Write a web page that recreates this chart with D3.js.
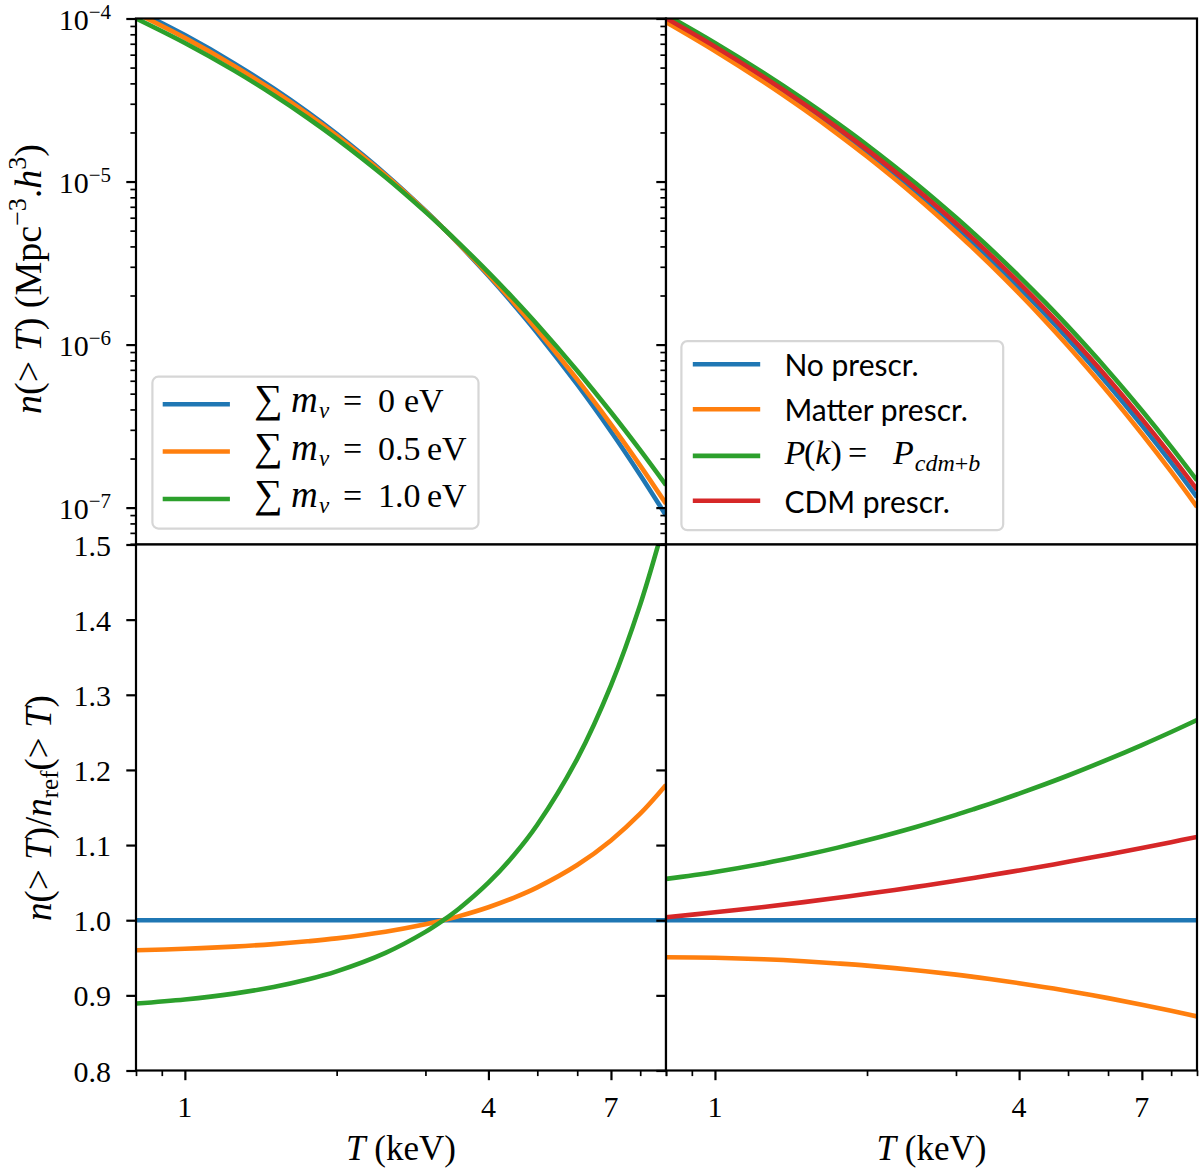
<!DOCTYPE html>
<html><head><meta charset="utf-8">
<script src="https://cdn.jsdelivr.net/npm/d3@7"></script>
<style>
body{margin:0;background:#fff}
svg text{font-family:"Liberation Serif","DejaVu Serif",serif;fill:#000}
.sans{font-family:Lato,"Open Sans",sans-serif}
</style>
</head><body>
<script>
// ---------------- data ----------------
const T = [0.8,1,1.25,1.5,1.75,2,2.5,3,3.25,3.5,4,4.5,5,6,7,8,9];

// top-left: n(>T), neutrino masses
const massLabels = ["0 eV","0.5 eV","1.0 eV"];
const nMass0  = [1.1246e-4,7.907e-5,5.327e-5,3.721e-5,2.673e-5,1.960e-5,1.110e-5,6.620e-6,5.194e-6,4.112e-6,2.641e-6,1.744e-6,1.178e-6,5.693e-7,2.931e-7,1.586e-7,8.95e-8];
const nMass05 = [1.0796e-4,7.607e-5,5.140e-5,3.603e-5,2.598e-5,1.913e-5,1.093e-5,6.584e-6,5.193e-6,4.134e-6,2.687e-6,1.796e-6,1.229e-6,6.111e-7,3.242e-7,1.811e-7,1.056e-7];
const nMass10 = [9.999e-5,7.073e-5,4.807e-5,3.391e-5,2.462e-5,1.827e-5,1.062e-5,6.517e-6,5.192e-6,4.177e-6,2.773e-6,1.896e-6,1.328e-6,6.916e-7,3.847e-7,2.252e-7,1.375e-7];

// bottom-left: ratios to the 0 eV case
const rMass0  = [1,1,1,1,1,1,1,1,1,1,1,1,1,1,1,1,1];
const rMass05 = [0.9600,0.9620,0.9649,0.9682,0.9719,0.9758,0.9846,0.9945,0.9999,1.0054,1.0173,1.0301,1.0437,1.0734,1.1062,1.1417,1.1800];
const rMass10 = [0.8891,0.8945,0.9023,0.9112,0.9211,0.9320,0.9566,0.9845,0.9997,1.0157,1.0500,1.0871,1.1270,1.2148,1.3126,1.4200,1.5365];

// top-right: n(>T), prescriptions
const prescrLabels = ["No prescr.","Matter prescr.","P(k) = P_cdm+b","CDM prescr."];
const nNoPrescr = [1.0e-4,6.653e-5,4.294e-5,2.926e-5,2.075e-5,1.515e-5,8.648e-6,5.272e-6,4.195e-6,3.376e-6,2.245e-6,1.540e-6,1.083e-6,5.697e-7,3.197e-7,1.887e-7,1.159e-7];
const nMatter   = [9.508e-5,6.322e-5,4.072e-5,2.767e-5,1.956e-5,1.424e-5,8.074e-6,4.890e-6,3.879e-6,3.112e-6,2.057e-6,1.403e-6,9.810e-7,5.106e-7,2.838e-7,1.660e-7,1.011e-7];
const nPcdmb    = [1.055e-4,7.081e-5,4.619e-5,3.179e-5,2.275e-5,1.676e-5,9.721e-6,6.011e-6,4.815e-6,3.899e-6,2.623e-6,1.819e-6,1.292e-6,6.916e-7,3.942e-7,2.360e-7,1.468e-7];
const nCDM      = [1.004e-4,6.723e-5,4.370e-5,2.997e-5,2.137e-5,1.568e-5,9.032e-6,5.549e-6,4.431e-6,3.578e-6,2.394e-6,1.651e-6,1.167e-6,6.196e-7,3.504e-7,2.083e-7,1.288e-7];

// bottom-right: ratios to "No prescr."
const rNoPrescr = [1,1,1,1,1,1,1,1,1,1,1,1,1,1,1,1,1];
const rMatter   = [0.9508,0.9500,0.9480,0.9454,0.9425,0.9396,0.9335,0.9276,0.9246,0.9217,0.9162,0.9109,0.9058,0.8963,0.8876,0.8795,0.8720];
const rPcdmb    = [1.055,1.0643,1.0756,1.0864,1.0966,1.1063,1.1241,1.1402,1.1477,1.1549,1.1684,1.1809,1.1926,1.214,1.2331,1.2505,1.2664];
const rCDM      = [1.004,1.0105,1.0177,1.0241,1.0299,1.0351,1.0444,1.0525,1.0562,1.0598,1.0663,1.0722,1.0777,1.0875,1.0961,1.1039,1.1109];

// axes
const xDomain = [0.8, 9];
const xMajorTicks = [1,4,7];
const xMinorTicks = [0.8,0.9,2,3,5,6,8,9];
const yTopDomain = [5.94e-8, 1e-4];
const yTopMajor = [1e-4,1e-5,1e-6,1e-7];
const yTopExp = [-4,-5,-6,-7];
const yTopMinor = [];
[-8,-7,-6,-5].forEach(e=>{for(let k=2;k<=9;k++){const v=k*Math.pow(10,e); if(v>=yTopDomain[0]&&v<=yTopDomain[1]) yTopMinor.push(v);}});
const yBotDomain = [0.8, 1.5];
const yBotTicks = [0.8,0.9,1.0,1.1,1.2,1.3,1.4,1.5];

const C = {blue:"#1f77b4", orange:"#ff7f0e", green:"#2ca02c", red:"#d62728"};

// ---------------- layout ----------------
const X0=136, X1=666, X2=1197, Y0=18.5, Y1=544.5, Y2=1070.5;
const svg = d3.select("body").append("svg").attr("width",1200).attr("height",1168);

function rich(sel, parts){
  parts.forEach(p=>{
    const t = sel.append("tspan").text(p.t);
    if(p.i) t.attr("font-style","italic");
    if(p.s) t.attr("font-size",p.s);
    if(p.dy!=null) t.attr("dy",p.dy);
    if(p.x!=null) t.attr("x",p.x);
    if(p.dx!=null) t.attr("dx",p.dx);
  });
  return sel;
}

const panels = [
  {id:"tl", x0:X0,x1:X1,y0:Y0,y1:Y1, log:true,  left:true,  bottom:false,
   series:[[nMass0,C.blue],[nMass05,C.orange],[nMass10,C.green]]},
  {id:"tr", x0:X1,x1:X2,y0:Y0,y1:Y1, log:true,  left:false, bottom:false,
   series:[[nNoPrescr,C.blue],[nMatter,C.orange],[nPcdmb,C.green],[nCDM,C.red]]},
  {id:"bl", x0:X0,x1:X1,y0:Y1,y1:Y2, log:false, left:true,  bottom:true,
   series:[[rMass0,C.blue],[rMass05,C.orange],[rMass10,C.green]]},
  {id:"br", x0:X1,x1:X2,y0:Y1,y1:Y2, log:false, left:false, bottom:true,
   series:[[rNoPrescr,C.blue],[rMatter,C.orange],[rPcdmb,C.green],[rCDM,C.red]]}
];

const MAJ=9.7, MIN=5.6;

panels.forEach(P=>{
  const x = d3.scaleLog().domain(xDomain).range([P.x0,P.x1]);
  const y = P.log ? d3.scaleLog().domain(yTopDomain).range([P.y1,P.y0])
                  : d3.scaleLinear().domain(yBotDomain).range([P.y1,P.y0]);
  const g = svg.append("g");
  g.append("rect").attr("x",P.x0).attr("y",P.y0).attr("width",P.x1-P.x0).attr("height",P.y1-P.y0).attr("fill","#fff");
  g.append("clipPath").attr("id","clip-"+P.id).append("rect")
    .attr("x",P.x0).attr("y",P.y0).attr("width",P.x1-P.x0).attr("height",P.y1-P.y0);
  const line = d3.line().x((d,i)=>x(T[i])).y(d=>y(d)).curve(d3.curveCatmullRom.alpha(0.5));
  const lg = g.append("g").attr("clip-path","url(#clip-"+P.id+")");
  P.series.forEach(([vals,col])=>{
    lg.append("path").datum(vals).attr("d",line).attr("fill","none")
      .attr("stroke",col).attr("stroke-width",4.6).attr("stroke-linecap","butt").attr("stroke-linejoin","round");
  });
  // y ticks
  const yMaj = P.log ? yTopMajor : yBotTicks;
  const ya = g.append("g").attr("transform",`translate(${P.x0},0)`)
    .call(d3.axisLeft(y).tickValues(yMaj).tickSize(MAJ).tickFormat(""));
  ya.select(".domain").remove();
  ya.selectAll("line").attr("stroke","#000").attr("stroke-width",2.2);
  if(P.log){
    const ym = g.append("g").attr("transform",`translate(${P.x0},0)`)
      .call(d3.axisLeft(y).tickValues(yTopMinor).tickSize(MIN).tickFormat(""));
    ym.select(".domain").remove();
    ym.selectAll("line").attr("stroke","#000").attr("stroke-width",1.7);
  }
  // x ticks
  if(P.bottom){
    const xa = g.append("g").attr("transform",`translate(0,${P.y1})`)
      .call(d3.axisBottom(x).tickValues(xMajorTicks).tickSize(MAJ).tickFormat(""));
    xa.select(".domain").remove();
    xa.selectAll("line").attr("stroke","#000").attr("stroke-width",2.2);
    const xm = g.append("g").attr("transform",`translate(0,${P.y1})`)
      .call(d3.axisBottom(x).tickValues(xMinorTicks).tickSize(MIN).tickFormat(""));
    xm.select(".domain").remove();
    xm.selectAll("line").attr("stroke","#000").attr("stroke-width",1.7);
    xMajorTicks.forEach(v=>{
      g.append("text").attr("x",x(v)).attr("y",P.y1+46.5).attr("text-anchor","middle")
        .attr("font-size",30).text(String(v));
    });
    const xl = g.append("text").attr("x",(P.x0+P.x1)/2).attr("y",1160).attr("text-anchor","middle").attr("font-size",35);
    rich(xl,[{t:"T",i:1},{t:" (keV)"}]);
  }
  // y tick labels
  if(P.left){
    if(P.log){
      yTopMajor.forEach((v,k)=>{
        const t = g.append("text").attr("x",111).attr("y",y(v)+11.5).attr("text-anchor","end").attr("font-size",30);
        rich(t,[{t:"10"},{t:"−"+(-yTopExp[k]),s:21,dy:-11}]);
      });
    } else {
      yBotTicks.forEach(v=>{
        g.append("text").attr("x",111).attr("y",y(v)+11).attr("text-anchor","end").attr("font-size",30).text(v.toFixed(1));
      });
    }
  }
  // spines
  g.append("rect").attr("x",P.x0).attr("y",P.y0).attr("width",P.x1-P.x0).attr("height",P.y1-P.y0)
    .attr("fill","none").attr("stroke","#000").attr("stroke-width",2.2);
});

// y-axis labels
const yl1 = svg.append("text").attr("transform","translate(41,279) rotate(-90)").attr("text-anchor","middle").attr("font-size",38);
rich(yl1,[{t:"n",i:1},{t:"(> "},{t:"T",i:1},{t:")  (Mpc"},{t:"−3",s:26,dy:-15},{t:".",dy:15},{t:"h",i:1},{t:"3",s:26,dy:-15},{t:")",dy:15}]);
const yl2 = svg.append("text").attr("transform","translate(51,808) rotate(-90)").attr("text-anchor","middle").attr("font-size",37);
rich(yl2,[{t:"n",i:1},{t:"(> "},{t:"T",i:1},{t:")/"},{t:"n",i:1},{t:"ref",s:25,dy:7},{t:"(> ",dy:-7},{t:"T",i:1},{t:")"}]);

// legends
function legendBox(x0,y0,x1,y1){
  svg.append("rect").attr("x",x0).attr("y",y0).attr("width",x1-x0).attr("height",y1-y0)
    .attr("rx",6).attr("fill","#fff").attr("fill-opacity",0.8).attr("stroke","#d6d6d6").attr("stroke-width",2.2);
}
function legendLine(x0,x1,yy,col){
  svg.append("line").attr("x1",x0).attr("x2",x1).attr("y1",yy).attr("y2",yy).attr("stroke",col).attr("stroke-width",4.6);
}
// left legend
legendBox(152.4,376.7,478.5,528.6);
const leftRows=[404.3,451.5,499];
[C.blue,C.orange,C.green].forEach((col,i)=>{
  legendLine(162.7,229.9,leftRows[i],col);
  const t = svg.append("text").attr("y",leftRows[i]+8).attr("font-size",34);
  const num = massLabels[i].split(" ")[0];
  rich(t,[{t:"∑",x:254,s:40},{t:"m",i:1,x:291,s:37},{t:"ν",i:1,s:23,dy:6,x:319},{t:"=",dy:-6,x:343},{t:num,x:378},{t:"eV",x:num.length>1?427:404}]);
});
// right legend
legendBox(681.4,341.1,1003.2,530.2);
const rightRows=[364.3,409.2,455.9,500.8];
[C.blue,C.orange,C.green,C.red].forEach((col,i)=>{
  legendLine(692.8,760.2,rightRows[i],col);
  if(i===2){
    const t = svg.append("text").attr("y",rightRows[i]+8).attr("font-size",34);
    rich(t,[{t:"P",i:1,x:784.4},{t:"(",x:804},{t:"k",i:1},{t:")"},{t:"=",x:848},{t:"P",i:1,x:893},{t:"cdm",i:1,s:24,dy:7,dx:1},{t:"+",s:24},{t:"b",i:1,s:24}]);
  } else {
    svg.append("text").attr("class","sans").attr("x",784.4).attr("y",rightRows[i]+12).attr("font-size",30).text(prescrLabels[i]);
  }
});
</script>
</body></html>
